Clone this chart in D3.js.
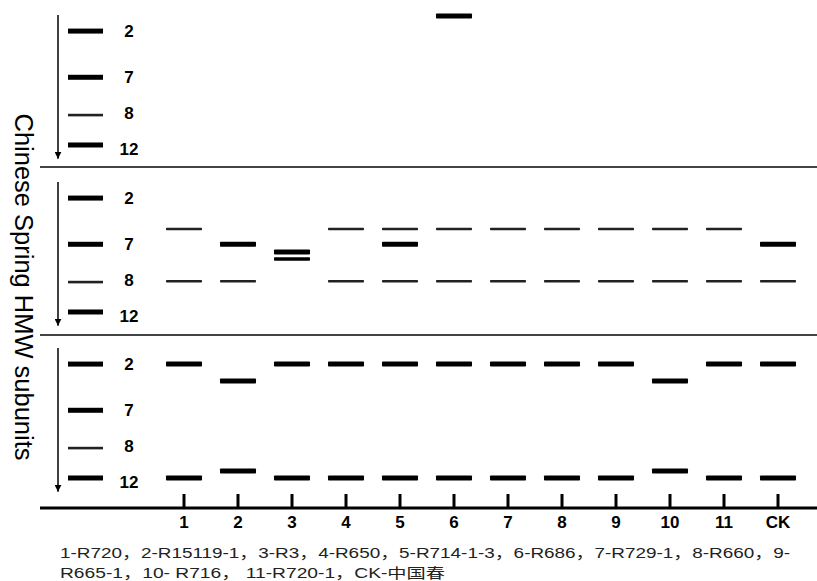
<!DOCTYPE html>
<html>
<head>
<meta charset="utf-8">
<script src="https://cdn.jsdelivr.net/npm/d3@7"></script>
<style>
  html, body { margin: 0; padding: 0; background: #fff; }
  svg { display: block; font-family: "Liberation Sans", Arial, sans-serif; }
</style>
</head>
<body>
<svg id="chart" width="817" height="581"></svg>
<script>
// ---- data ----
const lanes = ["1", "2", "3", "4", "5", "6", "7", "8", "9", "10", "11", "CK"];
const markerNames = ["2", "7", "8", "12"];
const markerMobility = [18.5, 46, 68.5, 86.3];      // relative migration (0-100 within a panel)
const markerIntensity = ["strong", "strong", "weak", "strong"];

// [lane, relative migration, intensity]
const panel1Bands = [
  ["6", 9.5, "strong"]
];
const panel2Bands = [
  ["1", 36.9, "weak"], ["4", 36.9, "weak"], ["5", 36.9, "weak"], ["6", 36.9, "weak"],
  ["7", 36.9, "weak"], ["8", 36.9, "weak"], ["9", 36.9, "weak"], ["10", 36.9, "weak"],
  ["11", 36.9, "weak"],
  ["2", 46, "strong"], ["5", 46, "strong"], ["CK", 46, "strong"],
  ["3", 50.6, "strong"], ["3", 54.8, "medium"],
  ["1", 68, "weak"], ["2", 68, "weak"], ["4", 68, "weak"], ["5", 68, "weak"],
  ["6", 68, "weak"], ["7", 68, "weak"], ["8", 68, "weak"], ["9", 68, "weak"],
  ["10", 68, "weak"], ["11", 68, "weak"], ["CK", 68, "weak"]
];
const panel3Bands = [
  ["1", 18.5, "strong"], ["3", 18.5, "strong"], ["4", 18.5, "strong"], ["5", 18.5, "strong"],
  ["6", 18.5, "strong"], ["7", 18.5, "strong"], ["8", 18.5, "strong"], ["9", 18.5, "strong"],
  ["11", 18.5, "strong"], ["CK", 18.5, "strong"],
  ["2", 28.6, "strong"], ["10", 28.6, "strong"],
  ["2", 82.1, "strong"], ["10", 82.1, "strong"],
  ["1", 86.3, "strong"], ["3", 86.3, "strong"], ["4", 86.3, "strong"], ["5", 86.3, "strong"],
  ["6", 86.3, "strong"], ["7", 86.3, "strong"], ["8", 86.3, "strong"], ["9", 86.3, "strong"],
  ["11", 86.3, "strong"], ["CK", 86.3, "strong"]
];
const yTitle = "Chinese Spring HMW subunits";
const captionLines = [
  "1-R720，2-R15119-1，3-R3，4-R650，5-R714-1-3，6-R686，7-R729-1，8-R660，9-",
  "R665-1，10- R716， 11-R720-1，CK-中国春"
];

// ---- layout ----
const svg = d3.select("#chart");
const panels = [
  { top: 0, bands: panel1Bands },
  { top: 167, bands: panel2Bands },
  { top: 333, bands: panel3Bands }
];
const separators = [167, 335];
const axisY = 508;
const x = d3.scalePoint().domain(lanes).range([184, 778]);
const y = d3.scaleLinear().domain([0, 100]).range([0, 168]);
const markerX = 85.5;
const bandW = 36;
const thick = { strong: 5, medium: 3.6, weak: 2.6 };
const captionWidths = [730, 385];

// separators
svg.selectAll("line.sep").data(separators).join("line")
  .attr("class", "sep")
  .attr("x1", 40).attr("x2", 817)
  .attr("y1", d => d).attr("y2", d => d)
  .attr("stroke", "#444").attr("stroke-width", 2);

// arrowhead
svg.append("defs").append("marker")
  .attr("id", "arr").attr("viewBox", "0 0 10 10")
  .attr("refX", 10).attr("refY", 5)
  .attr("markerWidth", 7).attr("markerHeight", 7)
  .attr("markerUnits", "userSpaceOnUse")
  .attr("orient", "auto")
  .append("path").attr("d", "M0,0 L10,5 L0,10 Z").attr("fill", "#000");

panels.forEach((p, i) => {
  const g = svg.append("g").attr("transform", `translate(0,${p.top})`);
  // arrow
  g.append("line")
    .attr("x1", 58).attr("x2", 58)
    .attr("y1", y(9)).attr("y2", y(94.5))
    .attr("stroke", "#000").attr("stroke-width", 1.5)
    .attr("marker-end", "url(#arr)");
  // marker bands
  g.selectAll("rect.mk").data(markerNames).join("rect")
    .attr("class", "mk")
    .attr("x", markerX - 17.5).attr("width", 35)
    .attr("y", (d, j) => y(markerMobility[j]) - thick[markerIntensity[j]] / 2)
    .attr("height", (d, j) => thick[markerIntensity[j]])
    .attr("fill", (d, j) => markerIntensity[j] === "weak" ? "#222" : "#000");
  // marker labels
  g.selectAll("text.mk").data(markerNames).join("text")
    .attr("class", "mk")
    .attr("x", 129)
    .attr("y", (d, j) => y(markerMobility[j]) + (d === "12" ? 10 : (d === "8" ? 4 : 6)))
    .attr("text-anchor", "middle")
    .attr("font-size", 17).attr("font-weight", "bold")
    .text(d => d);
  // lane bands
  g.selectAll("rect.band").data(p.bands).join("rect")
    .attr("class", "band")
    .attr("x", d => x(d[0]) - bandW / 2).attr("width", bandW)
    .attr("y", d => y(d[1]) - thick[d[2]] / 2)
    .attr("height", d => thick[d[2]])
    .attr("rx", 0.8)
    .attr("fill", d => d[2] === "weak" ? "#222" : "#000");
});

// bottom axis
const axisG = svg.append("g").attr("transform", `translate(0,${axisY})`);
axisG.append("line").attr("x1", 40).attr("x2", 817).attr("y1", 0).attr("y2", 0)
  .attr("stroke", "#000").attr("stroke-width", 3);
axisG.selectAll("line.tick").data(lanes).join("line")
  .attr("class", "tick")
  .attr("x1", d => x(d)).attr("x2", d => x(d))
  .attr("y1", -14).attr("y2", 0)
  .attr("stroke", "#000").attr("stroke-width", 3);
axisG.selectAll("text.lab").data(lanes).join("text")
  .attr("class", "lab")
  .attr("x", d => x(d)).attr("y", 20)
  .attr("text-anchor", "middle")
  .attr("font-size", 17).attr("font-weight", "bold")
  .text(d => d);

// y title
svg.append("text")
  .attr("transform", "translate(15,287) rotate(90)")
  .attr("text-anchor", "middle")
  .attr("font-size", 25)
  .attr("textLength", 347).attr("lengthAdjust", "spacingAndGlyphs")
  .text(yTitle);

// caption
svg.selectAll("text.cap").data(captionLines).join("text")
  .attr("class", "cap")
  .attr("x", 60).attr("y", (d, i) => 558 + i * 20)
  .attr("font-size", 14).attr("fill", "#222")
  .attr("font-family", "'Liberation Sans', 'Noto Sans CJK SC', sans-serif")
  .attr("textLength", (d, i) => captionWidths[i])
  .attr("lengthAdjust", "spacingAndGlyphs")
  .text(d => d);
</script>
</body>
</html>
